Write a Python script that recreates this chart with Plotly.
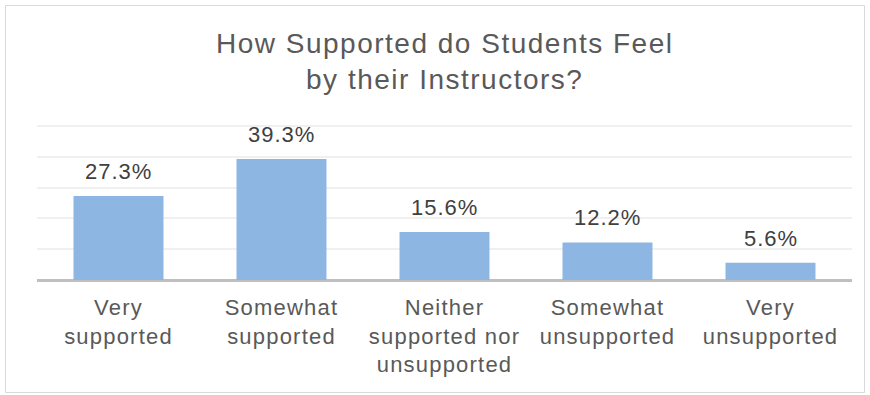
import plotly.graph_objects as go

# ---- data -------------------------------------------------------------
categories = [
    "Very<br>supported",
    "Somewhat<br>supported",
    "Neither<br>supported nor<br>unsupported",
    "Somewhat<br>unsupported",
    "Very<br>unsupported",
]
shares = [27.3, 39.3, 15.6, 12.2, 5.6]
title_lines = ["How Supported do Students Feel", "by their Instructors?"]
y_ticks = [0, 10, 20, 30, 40, 50]

# ---- geometry / style -------------------------------------------------
WIDTH, HEIGHT = 870, 395
M_L, M_R, M_T, M_B = 37, 18, 124, 115
PLOT_W = WIDTH - M_L - M_R
PLOT_H = HEIGHT - M_T - M_B
PX_PER_UNIT = 3.08          # vertical scale: 50 % spans 154 px
Y_TOP = PLOT_H / PX_PER_UNIT  # a little headroom so the 50 % gridline is drawn

FONT = "Liberation Sans, Arial, sans-serif"
BAR_COLOR = "#8DB7E2"
TITLE_COLOR = "#595959"
LABEL_COLOR = "#404040"
TICK_COLOR = "#595959"


def spaced(text, px):
    """Wrap each line of text in a span with extra letter spacing."""
    return "<br>".join(
        f'<span style="letter-spacing:{px}px">{line}</span>' for line in text.split("<br>")
    )


def px_to_paper_x(px):
    return (px - M_L) / PLOT_W


def px_to_paper_y(py):
    return (HEIGHT - M_B - py) / PLOT_H


xs = list(range(len(categories)))

fig = go.Figure(
    go.Bar(
        x=xs,
        y=shares,
        width=0.552,
        marker=dict(color=BAR_COLOR, line=dict(width=0)),
        hoverinfo="skip",
    )
)

# value labels above each bar
for x, v in zip(xs, shares):
    fig.add_annotation(
        x=x,
        y=v,
        xref="x",
        yref="y",
        text=spaced(f"{v:.1f}%", 1),
        showarrow=False,
        yanchor="bottom",
        yshift=10,
        font=dict(family=FONT, size=22, color=LABEL_COLOR),
    )

# chart title
fig.add_annotation(
    x=0.5,
    y=px_to_paper_y(61),
    xref="paper",
    yref="paper",
    text=spaced("<br>".join(title_lines), 1.5),
    showarrow=False,
    xanchor="center",
    yanchor="middle",
    font=dict(family=FONT, size=28, color=TITLE_COLOR),
)

# outer chart frame
fig.add_shape(
    type="rect",
    xref="paper",
    yref="paper",
    x0=px_to_paper_x(5.5),
    x1=px_to_paper_x(864.5),
    y0=px_to_paper_y(392.5),
    y1=px_to_paper_y(5.5),
    line=dict(color="#D9D9D9", width=1),
    fillcolor="rgba(0,0,0,0)",
    layer="below",
)

fig.update_layout(
    width=WIDTH,
    height=HEIGHT,
    margin=dict(l=M_L, r=M_R, t=M_T, b=M_B, pad=0),
    paper_bgcolor="white",
    plot_bgcolor="white",
    showlegend=False,
    font=dict(family=FONT, color=TICK_COLOR),
    xaxis=dict(
        range=[-0.5, len(categories) - 0.5],
        tickvals=xs,
        ticktext=[spaced(c, 1.2) for c in categories],
        tickfont=dict(family=FONT, size=22, color=TICK_COLOR),
        ticklabelstandoff=12,
        showgrid=False,
        zeroline=False,
        showline=False,
        ticks="",
        fixedrange=True,
    ),
    yaxis=dict(
        range=[0, Y_TOP],
        tickvals=y_ticks,
        showticklabels=False,
        showgrid=True,
        gridcolor="#F0F0F0",
        gridwidth=2,
        zeroline=True,
        zerolinecolor="#BFBFBF",
        zerolinewidth=3,
        showline=False,
        ticks="",
        fixedrange=True,
    ),
)

fig.write_html("out.html", config={"displayModeBar": False})
